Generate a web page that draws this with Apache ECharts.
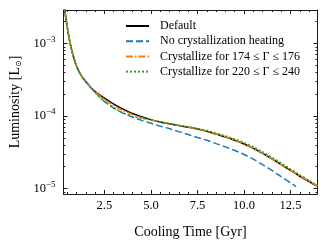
<!DOCTYPE html>
<html><head><meta charset="utf-8">
<script src="https://cdn.jsdelivr.net/npm/echarts@6/dist/echarts.min.js"></script>
<style>html,body{margin:0;padding:0;background:#fff}#c{width:328px;height:244px}</style>
</head><body><div id="c"></div>
<script>
// Cooling time [Gyr]
const timeGyr = [0.3,0.4,0.5,0.6,0.75,1,1.25,1.5,1.75,2,2.5,3,3.5,4,4.5,5,5.5,6,6.5,7,7.5,8,8.5,9,9.5,10,10.5,11,11.5,12,12.5,12.8,13,13.5,13.95];
// log10 of luminosity [L_sun]
const logLumDefault = [-2.40,-2.60,-2.77,-2.92,-3.10,-3.31,-3.44,-3.525,-3.60,-3.665,-3.755,-3.835,-3.905,-3.965,-4.01,-4.05,-4.082,-4.108,-4.132,-4.155,-4.18,-4.21,-4.25,-4.29,-4.335,-4.385,-4.445,-4.515,-4.59,-4.67,-4.75,-4.798,-4.83,-4.905,-4.97];
const logLumNoHeating = [-2.40,-2.60,-2.77,-2.92,-3.10,-3.31,-3.44,-3.53,-3.605,-3.675,-3.80,-3.89,-3.96,-4.015,-4.06,-4.10,-4.14,-4.175,-4.215,-4.255,-4.295,-4.335,-4.38,-4.425,-4.475,-4.53,-4.595,-4.67,-4.75,-4.835,-4.92,-4.975,null,null,null];
const logLumCryst174 = [-2.40,-2.60,-2.77,-2.92,-3.10,-3.31,-3.44,-3.525,-3.60,-3.668,-3.77,-3.855,-3.925,-3.98,-4.022,-4.054,-4.082,-4.107,-4.131,-4.153,-4.178,-4.207,-4.246,-4.286,-4.331,-4.381,-4.441,-4.511,-4.586,-4.666,-4.746,-4.794,-4.826,-4.901,-4.968];
const logLumCryst220 = [-2.40,-2.60,-2.77,-2.92,-3.10,-3.31,-3.44,-3.53,-3.605,-3.675,-3.80,-3.885,-3.955,-4.005,-4.03,-4.055,-4.08,-4.103,-4.126,-4.148,-4.172,-4.20,-4.237,-4.275,-4.318,-4.366,-4.424,-4.493,-4.568,-4.648,-4.73,-4.778,-4.81,-4.888,-4.962];
const seriesNames = ['Default','No crystallization heating','Crystallize for 174 \u2264 \u0393 \u2264 176','Crystallize for 220 \u2264 \u0393 \u2264 240'];
const xMajorTicks = [2.5,5,7.5,10,12.5];
const xMinorTicks = [0.5,1,1.5,2,3,3.5,4,4.5,5.5,6,6.5,7,8,8.5,9,9.5,10.5,11,11.5,12,13,13.5];
const yMajorTicks = [1e-5,1e-4,1e-3];
const yMinorTicks = [9e-6,2e-5,3e-5,4e-5,5e-5,6e-5,7e-5,8e-5,9e-5,2e-4,3e-4,4e-4,5e-4,6e-4,7e-4,8e-4,9e-4,2e-3];

const FONT = 'Liberation Serif';
const XMIN = 0.3, XMAX = 13.95, YMIN = 8.42e-6, YMAX = 2.89e-3;
const AX = '#1a1a1a';

function pairs(arr){ const out=[]; timeGyr.forEach((t,i)=>{ if(arr[i]!=null) out.push([t,Math.pow(10,arr[i])]); }); return out; }

function xAx(pos, ticks, len, labels, line){
  return {type:'value', min:XMIN, max:XMAX, position:pos,
    axisLine:{show:line, onZero:false, lineStyle:{color:AX,width:1}},
    axisTick:{show:true, inside:true, length:len, customValues:ticks, lineStyle:{color:AX,width:1}},
    axisLabel:{show:labels, customValues:ticks, margin:5, formatter:v=>v.toFixed(1), fontFamily:FONT, fontSize:12.5, color:'#000'},
    splitLine:{show:false}};
}
function yAx(pos, ticks, len, labels, line){
  return {type:'log', logBase:10, min:YMIN, max:YMAX, position:pos,
    axisLine:{show:line, onZero:false, lineStyle:{color:AX,width:1}},
    axisTick:{show:true, inside:true, length:len, customValues:ticks, lineStyle:{color:AX,width:1}},
    axisLabel:{show:labels, customValues:ticks, margin:8,
      formatter:v=>{const e=Math.round(Math.log10(v)); return '{b|10}{s|\u2212'+Math.abs(e)+'}';},
      rich:{b:{fontFamily:FONT,fontSize:12.5,color:'#000'}, s:{fontFamily:FONT,fontSize:9,color:'#000',padding:[0,0,8,0]}}},
    splitLine:{show:false}, minorTick:{show:false}};
}

const xAxes = [xAx('bottom',xMajorTicks,4,true,true), xAx('bottom',xMinorTicks,2,false,false), xAx('top',xMajorTicks,4,false,true), xAx('top',xMinorTicks,2,false,false)];
xAxes[0].name = 'Cooling Time [Gyr]';
xAxes[0].nameLocation = 'middle';
xAxes[0].nameGap = 31;
xAxes[0].nameTextStyle = {fontFamily:FONT, fontSize:14, color:'#000'};
const yAxes = [yAx('left',yMajorTicks,4,true,true), yAx('left',yMinorTicks,2,false,false), yAx('right',yMajorTicks,4,false,true), yAx('right',yMinorTicks,2,false,false)];
yAxes[0].name = 'Luminosity [L{sub|\u2299}]';
yAxes[0].nameLocation = 'middle';
yAxes[0].nameGap = 40;
yAxes[0].nameTextStyle = {fontFamily:FONT, fontSize:14, color:'#000', rich:{sub:{fontFamily:'DejaVu Sans', fontSize:8, color:'#000', padding:[7,0,0,0]}}};

const styles = [
  {color:'#000000', type:'solid'},
  {color:'#1f77b4', type:[7,3]},
  {color:'#ff7f0e', type:[7,2,1.5,2]},
  {color:'#2ca02c', type:[2,2]}
];
const dataSets = [logLumDefault, logLumNoHeating, logLumCryst174, logLumCryst220];

const chart = echarts.init(document.getElementById('c'), null, {renderer:'canvas'});
chart.setOption({
  animation:false,
  backgroundColor:'#fff',
  grid:{left:62, right:10.5, top:10, bottom:47, containLabel:false},
  xAxis:xAxes,
  yAxis:yAxes,
  legend:{show:true, orient:'vertical', left:125, top:20, padding:0, itemWidth:23, itemHeight:14, itemGap:3.2,
    data:seriesNames, itemStyle:{opacity:0},
    textStyle:{fontFamily:FONT, fontSize:12, color:'#000', padding:[0,0,0,6]}},
  series: dataSets.map((d,i)=>({
    name:seriesNames[i], type:'line', xAxisIndex:0, yAxisIndex:0,
    data:pairs(d), symbol:'none', showSymbol:false, smooth:0.3,
    clip:true, z:2+i,
    lineStyle:{color:styles[i].color, width:1.5, type:styles[i].type},
    itemStyle:{color:styles[i].color}
  }))
});
</script></body></html>
